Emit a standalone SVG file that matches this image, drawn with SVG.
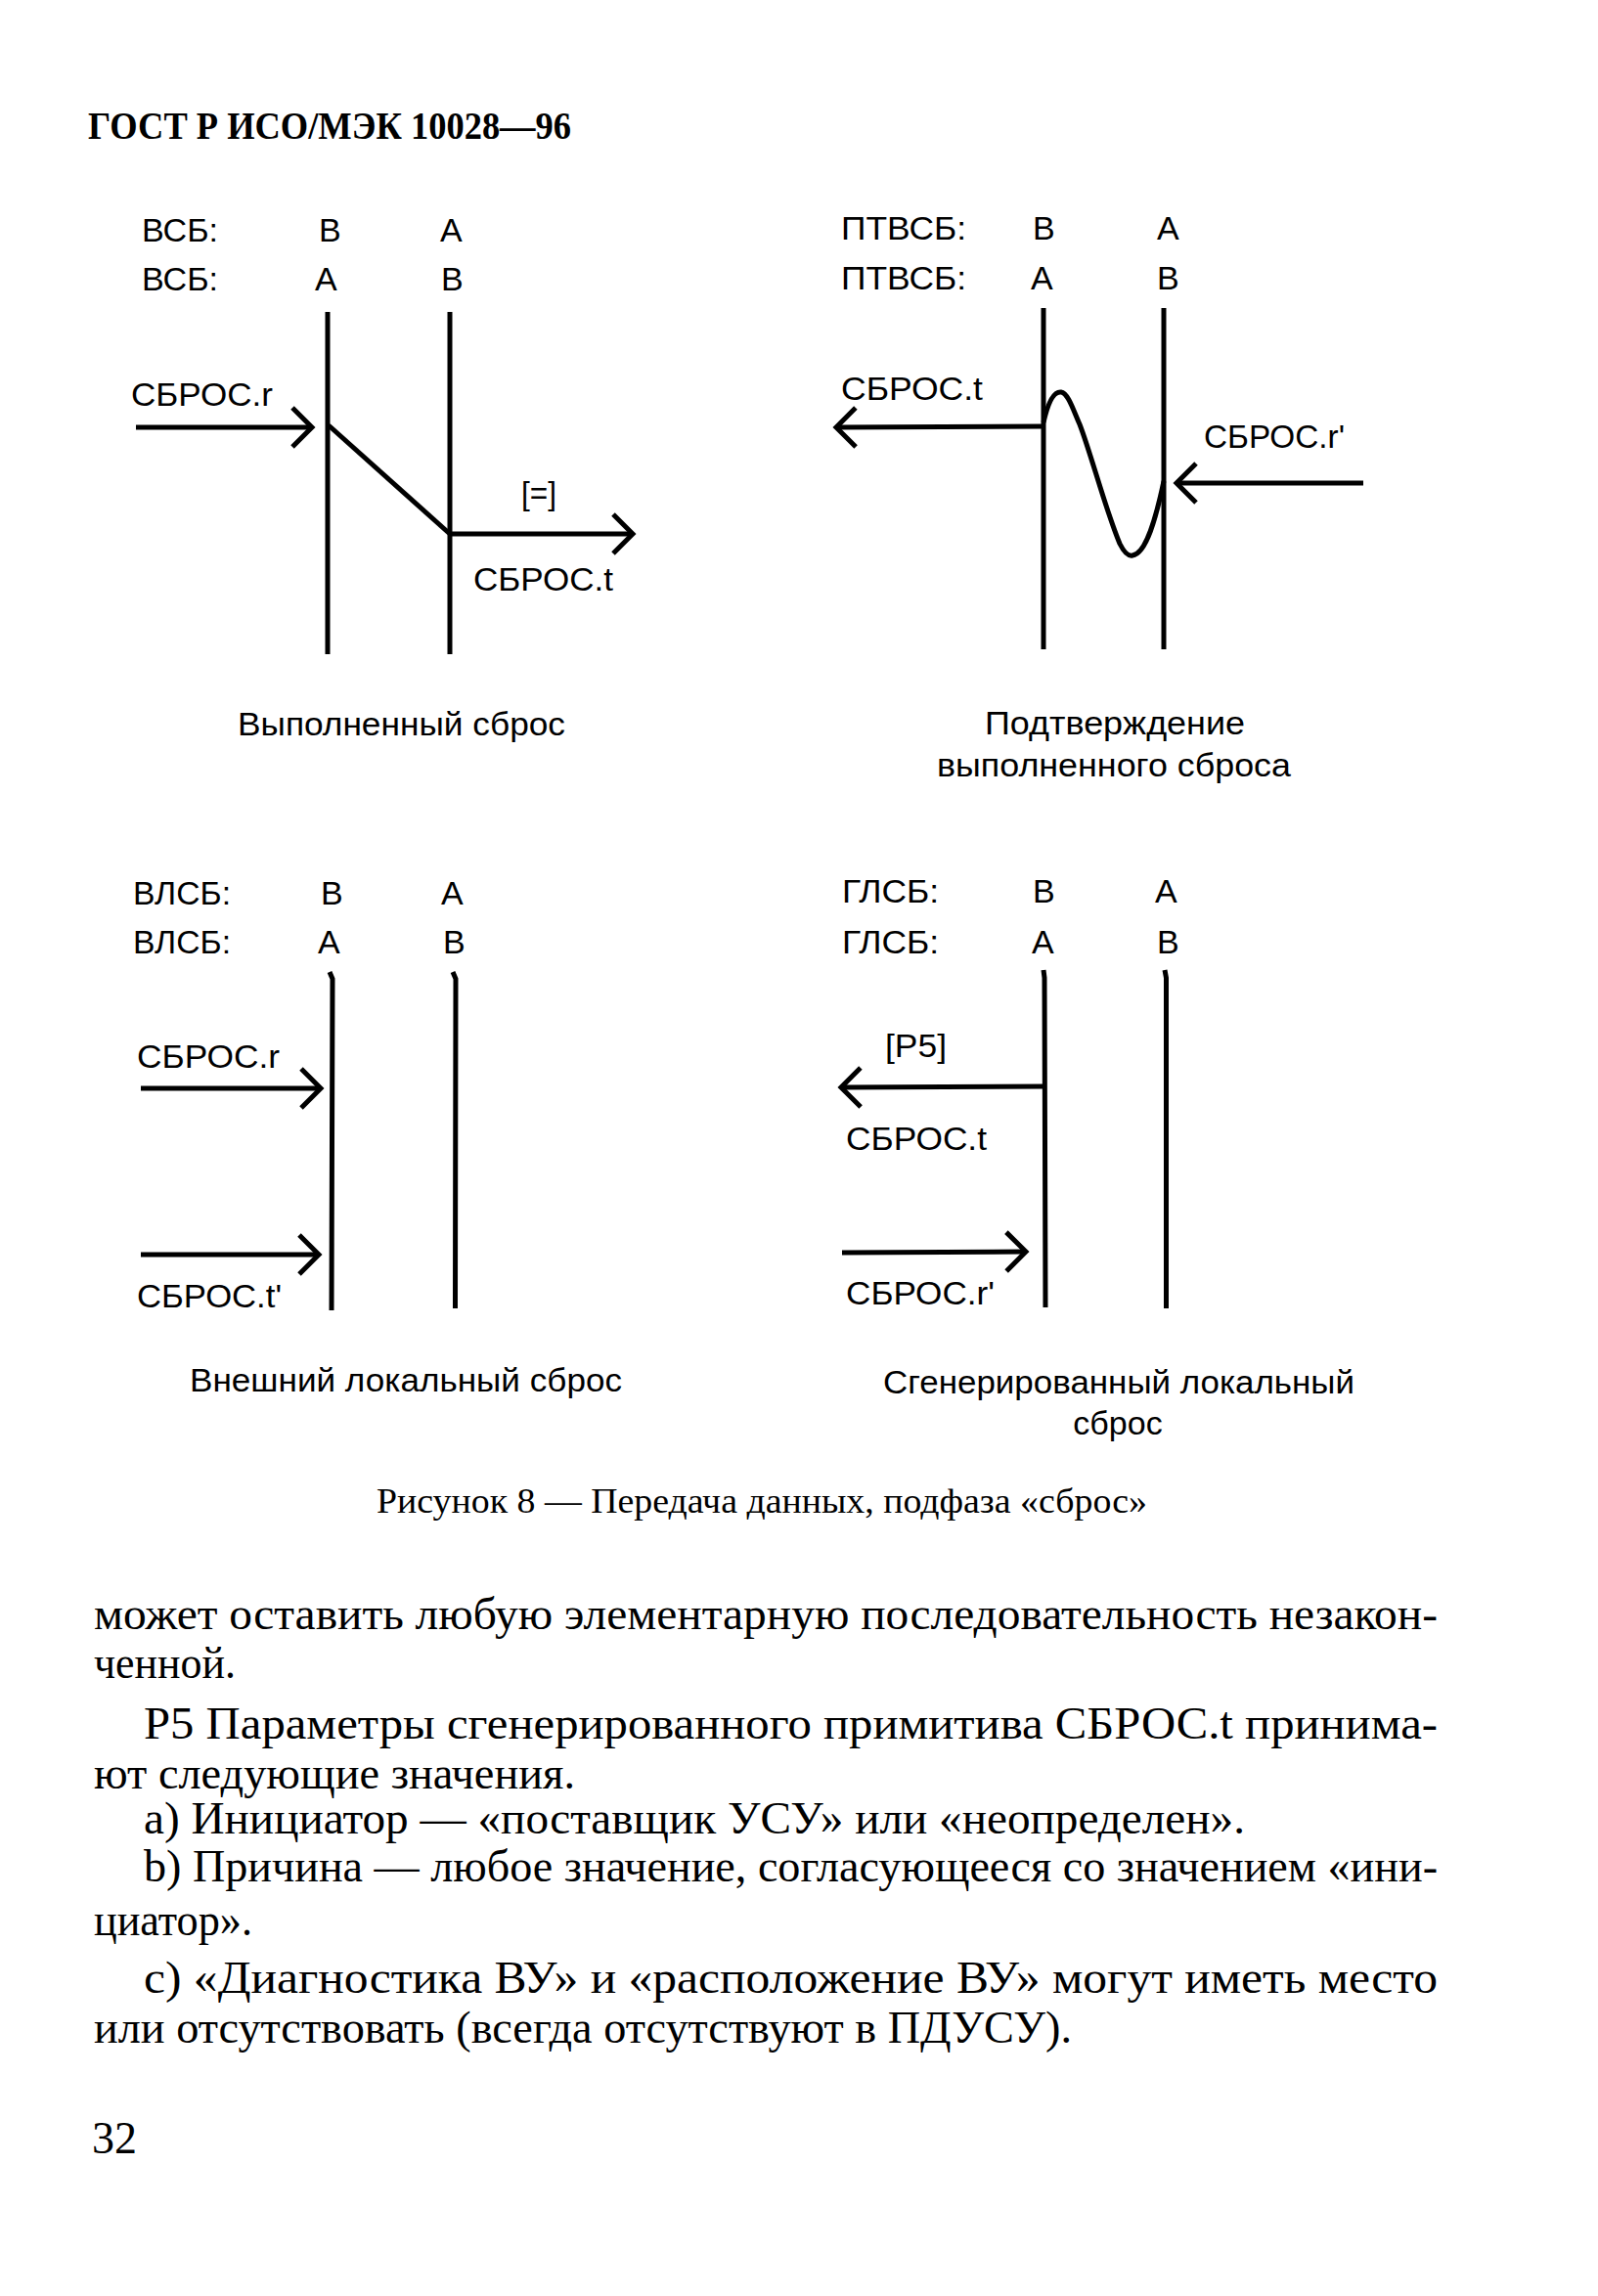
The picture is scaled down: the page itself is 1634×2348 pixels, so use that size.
<svg xmlns="http://www.w3.org/2000/svg" width="1634" height="2348" viewBox="0 0 1634 2348">
<style>
.lbl{font-family:"Liberation Sans",Arial,sans-serif;font-size:34px;fill:#000}
.cap{font-family:"Liberation Sans",Arial,sans-serif;font-size:34px;fill:#000}
.hdr{font-family:"Liberation Serif","Times New Roman",serif;font-size:39px;font-weight:bold;fill:#000}
.fig{font-family:"Liberation Serif","Times New Roman",serif;font-size:36px;fill:#000}
.body{font-family:"Liberation Serif","Times New Roman",serif;font-size:46px;fill:#000}
.ll{stroke:#000;stroke-width:5;fill:none;stroke-linecap:butt}
.ar{stroke:#000;stroke-width:5;fill:none}
</style>
<defs>
<marker id="chev" markerUnits="userSpaceOnUse" viewBox="-26 -26 32 52" markerWidth="32" markerHeight="52" refX="0" refY="0" orient="auto">
<path d="M-20,-20 L0,0 L-20,20" fill="none" stroke="#000" stroke-width="5" stroke-linejoin="miter"/>
</marker>
</defs>
<rect width="1634" height="2348" fill="#fff"/>

<g id="header"><text class="hdr" x="90" y="142" textLength="494" lengthAdjust="spacingAndGlyphs">ГОСТ Р ИСО/МЭК 10028—96</text></g>

<!-- Top-left panel -->
<g id="tl-labels">
<text class="lbl" x="145" y="247" textLength="78" lengthAdjust="spacingAndGlyphs">ВСБ:</text>
<text class="lbl" x="145" y="297" textLength="78" lengthAdjust="spacingAndGlyphs">ВСБ:</text>
</g>
<g id="tl-lifeline-1">
<text class="lbl" x="326" y="247">В</text>
<text class="lbl" x="322" y="297">А</text>
<line class="ll" x1="335" y1="319" x2="335" y2="669"/>
</g>
<g id="tl-lifeline-2">
<text class="lbl" x="450" y="247">А</text>
<text class="lbl" x="451" y="297">В</text>
<line class="ll" x1="460" y1="319" x2="460" y2="669"/>
</g>
<g id="tl-texts">
<text class="lbl" x="134" y="415" textLength="145" lengthAdjust="spacingAndGlyphs">СБРОС.r</text>
<text class="lbl" x="533" y="516" textLength="36" lengthAdjust="spacingAndGlyphs">[=]</text>
<text class="lbl" x="484" y="604" textLength="143" lengthAdjust="spacingAndGlyphs">СБРОС.t</text>
<text class="cap" x="243" y="752" textLength="335" lengthAdjust="spacingAndGlyphs">Выполненный сброс</text>
</g>

<!-- Top-right panel -->
<g id="tr-labels">
<text class="lbl" x="860" y="245" textLength="128" lengthAdjust="spacingAndGlyphs">ПТВСБ:</text>
<text class="lbl" x="860" y="296" textLength="128" lengthAdjust="spacingAndGlyphs">ПТВСБ:</text>
</g>
<g id="tr-lifeline-1">
<text class="lbl" x="1056" y="245">В</text>
<text class="lbl" x="1054" y="296">А</text>
<line class="ll" x1="1067" y1="315" x2="1067" y2="664"/>
</g>
<g id="tr-lifeline-2">
<text class="lbl" x="1183" y="245">А</text>
<text class="lbl" x="1183" y="296">В</text>
<line class="ll" x1="1190" y1="315" x2="1190" y2="664"/>
</g>
<g id="tr-texts">
<text class="lbl" x="860" y="409" textLength="145" lengthAdjust="spacingAndGlyphs">СБРОС.t</text>
<text class="lbl" x="1231" y="458" textLength="144" lengthAdjust="spacingAndGlyphs">СБРОС.r'</text>
<text class="cap" x="1140" y="751" text-anchor="middle" textLength="266" lengthAdjust="spacingAndGlyphs">Подтверждение</text>
<text class="cap" x="1139" y="794" text-anchor="middle" textLength="362" lengthAdjust="spacingAndGlyphs">выполненного сброса</text>
</g>

<!-- Bottom-left panel -->
<g id="bl-labels">
<text class="lbl" x="136" y="925" textLength="100" lengthAdjust="spacingAndGlyphs">ВЛСБ:</text>
<text class="lbl" x="136" y="975" textLength="100" lengthAdjust="spacingAndGlyphs">ВЛСБ:</text>
</g>
<g id="bl-lifeline-1">
<text class="lbl" x="328" y="925">В</text>
<text class="lbl" x="325" y="975">А</text>
<path class="ll" d="M337,994 L340,1001 L339,1340"/>
</g>
<g id="bl-lifeline-2">
<text class="lbl" x="451" y="925">А</text>
<text class="lbl" x="453" y="975">В</text>
<path class="ll" d="M463,994 L466,1001 L465.5,1338"/>
</g>
<g id="bl-texts">
<text class="lbl" x="140" y="1092" textLength="146" lengthAdjust="spacingAndGlyphs">СБРОС.r</text>
<text class="lbl" x="140" y="1337" textLength="148" lengthAdjust="spacingAndGlyphs">СБРОС.t'</text>
<text class="cap" x="194" y="1423" textLength="442" lengthAdjust="spacingAndGlyphs">Внешний локальный сброс</text>
</g>

<!-- Bottom-right panel -->
<g id="br-labels">
<text class="lbl" x="861" y="923" textLength="99" lengthAdjust="spacingAndGlyphs">ГЛСБ:</text>
<text class="lbl" x="861" y="975" textLength="99" lengthAdjust="spacingAndGlyphs">ГЛСБ:</text>
</g>
<g id="br-lifeline-1">
<text class="lbl" x="1056" y="923">В</text>
<text class="lbl" x="1055" y="975">А</text>
<path class="ll" d="M1067,992 L1068,1000 L1069,1337"/>
</g>
<g id="br-lifeline-2">
<text class="lbl" x="1181" y="923">А</text>
<text class="lbl" x="1183" y="975">В</text>
<path class="ll" d="M1191,992 L1192.5,1000 L1192.5,1338"/>
</g>
<g id="br-texts">
<text class="lbl" x="905" y="1081" textLength="63" lengthAdjust="spacingAndGlyphs">[Р5]</text>
<text class="lbl" x="865" y="1176" textLength="144" lengthAdjust="spacingAndGlyphs">СБРОС.t</text>
<text class="lbl" x="865" y="1334" textLength="152" lengthAdjust="spacingAndGlyphs">СБРОС.r'</text>
<text class="cap" x="1144" y="1425" text-anchor="middle" textLength="482" lengthAdjust="spacingAndGlyphs">Сгенерированный локальный</text>
<text class="cap" x="1143" y="1467" text-anchor="middle">сброс</text>
</g>

<g id="connectors">
<line class="ar" x1="139" y1="437" x2="319" y2="437" marker-end="url(#chev)"/>
<line class="ar" x1="336" y1="435" x2="460" y2="546"/>
<line class="ar" x1="460" y1="546" x2="647" y2="546" marker-end="url(#chev)"/>
<line class="ar" x1="1067" y1="436" x2="855" y2="437" marker-end="url(#chev)"/>
<path class="ar" stroke-width="4.5" d="M1067,432 C1072,410 1078,400 1085,401 C1092,402 1097,418 1104,434 C1115,462 1130,520 1145,556 C1150,566 1154,569 1158,568 C1172,566 1182,530 1190,492"/>
<line class="ar" x1="1394" y1="494" x2="1203" y2="494" marker-end="url(#chev)"/>
<line class="ar" x1="144" y1="1113" x2="328" y2="1113" marker-end="url(#chev)"/>
<line class="ar" x1="144" y1="1283" x2="326" y2="1283" marker-end="url(#chev)"/>
<line class="ar" x1="1068" y1="1111" x2="860" y2="1112" marker-end="url(#chev)"/>
<line class="ar" x1="861" y1="1281" x2="1049" y2="1280" marker-end="url(#chev)"/>
</g>

<g id="caption"><text class="fig" x="385" y="1547" textLength="788" lengthAdjust="spacingAndGlyphs">Рисунок 8 — Передача данных, подфаза «сброс»</text></g>

<g id="body">
<text class="body" x="96" y="1666" textLength="1374" lengthAdjust="spacingAndGlyphs">может оставить любую элементарную последовательность незакон-</text>
<text class="body" x="96" y="1716" textLength="145" lengthAdjust="spacingAndGlyphs">ченной.</text>
<text class="body" x="147" y="1778" textLength="1323" lengthAdjust="spacingAndGlyphs">Р5 Параметры сгенерированного примитива СБРОС.t принима-</text>
<text class="body" x="96" y="1829" textLength="492" lengthAdjust="spacingAndGlyphs">ют следующие значения.</text>
<text class="body" x="147" y="1875" textLength="1126" lengthAdjust="spacingAndGlyphs">а) Инициатор — «поставщик УСУ» или «неопределен».</text>
<text class="body" x="147" y="1924" textLength="1323" lengthAdjust="spacingAndGlyphs">b) Причина — любое значение, согласующееся со значением «ини-</text>
<text class="body" x="96" y="1979" textLength="162" lengthAdjust="spacingAndGlyphs">циатор».</text>
<text class="body" x="147" y="2038" textLength="1323" lengthAdjust="spacingAndGlyphs">с) «Диагностика ВУ» и «расположение ВУ» могут иметь место</text>
<text class="body" x="96" y="2089" textLength="1000" lengthAdjust="spacingAndGlyphs">или отсутствовать (всегда отсутствуют в ПДУСУ).</text>
<text class="body" x="94" y="2202" font-size="36">32</text>
</g>
</svg>
